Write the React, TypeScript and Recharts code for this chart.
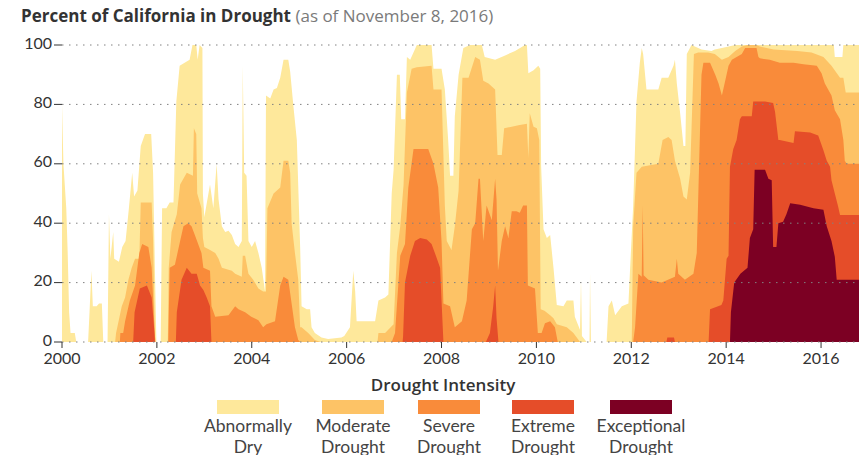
import React from 'react';
import { AreaChart, Area, XAxis, YAxis, ReferenceLine } from 'recharts';

// [year, percent of California] pairs
const abnormallyDry: [number, number][] = [
  [2000.0, 80], [2000.03, 60], [2000.09, 45], [2000.12, 30], [2000.15, 10], [2000.18, 3], [2000.27, 3], [2000.3, 0],
  [2000.55, 0], [2000.58, 10], [2000.62, 24], [2000.65, 12], [2000.73, 12], [2000.78, 13], [2000.84, 13], [2000.87, 0],
  [2000.96, 0], [2000.99, 43], [2001.02, 28], [2001.08, 37], [2001.1, 28], [2001.2, 27], [2001.27, 32], [2001.34, 34],
  [2001.41, 45], [2001.48, 57], [2001.52, 49], [2001.59, 51], [2001.66, 66], [2001.75, 70], [2001.88, 70], [2001.92, 57],
  [2001.96, 23], [2001.99, 0], [2002.08, 0], [2002.11, 45], [2002.2, 45], [2002.27, 47], [2002.35, 47], [2002.41, 81],
  [2002.48, 93], [2002.69, 95], [2002.75, 100], [2002.83, 100], [2002.86, 95], [2002.9, 100], [2002.96, 99], [2002.97, 50],
  [2003.0, 42], [2003.12, 53], [2003.19, 45], [2003.26, 60], [2003.3, 48], [2003.37, 39], [2003.44, 37], [2003.51, 37.5],
  [2003.58, 36], [2003.65, 33], [2003.72, 32], [2003.79, 34], [2003.81, 93], [2003.84, 57], [2003.89, 56], [2003.93, 34],
  [2004.0, 32], [2004.07, 34], [2004.14, 30], [2004.21, 25], [2004.28, 17], [2004.3, 83], [2004.39, 82], [2004.46, 85],
  [2004.53, 85.5], [2004.6, 89], [2004.67, 95], [2004.77, 95], [2004.81, 91], [2004.88, 79], [2004.95, 68], [2005.02, 32],
  [2005.05, 12], [2005.16, 11], [2005.23, 11], [2005.26, 5], [2005.33, 3], [2005.47, 1.5], [2005.61, 1], [2005.89, 1.5],
  [2005.95, 2], [2006.07, 5], [2006.14, 24], [2006.18, 17], [2006.21, 7], [2006.6, 7], [2006.67, 14], [2006.81, 15],
  [2006.88, 16], [2006.95, 50], [2006.99, 58], [2007.06, 90], [2007.12, 90], [2007.15, 75], [2007.23, 75], [2007.27, 96],
  [2007.34, 95], [2007.48, 100], [2007.79, 100], [2007.83, 92], [2008.0, 92], [2008.07, 85], [2008.14, 68], [2008.18, 56],
  [2008.25, 56], [2008.28, 76], [2008.36, 90], [2008.46, 99], [2008.6, 100], [2008.85, 100], [2008.91, 96], [2009.13, 95],
  [2009.34, 96.5], [2009.55, 98], [2009.76, 100], [2009.8, 100], [2009.83, 90.5], [2009.94, 91.5], [2010.04, 93], [2010.08, 92],
  [2010.1, 59], [2010.15, 38], [2010.22, 35], [2010.29, 36], [2010.36, 25], [2010.43, 12.5], [2010.57, 12], [2010.64, 14],
  [2010.78, 14], [2010.81, 8.5], [2010.92, 4], [2010.94, 21], [2010.96, 2], [2011.06, 0], [2011.12, 0], [2011.13, 23],
  [2011.15, 0], [2011.48, 0], [2011.52, 12], [2011.59, 14], [2011.66, 9], [2011.8, 12], [2011.94, 13], [2011.97, 23],
  [2012.04, 46], [2012.11, 81], [2012.18, 94], [2012.22, 99], [2012.25, 97], [2012.32, 85], [2012.57, 85], [2012.64, 89],
  [2012.78, 89], [2012.89, 93], [2012.92, 95], [2012.96, 87], [2013.03, 77], [2013.1, 66], [2013.14, 66], [2013.17, 97],
  [2013.27, 100], [2013.34, 99.5], [2013.48, 98.5], [2013.69, 98], [2013.76, 98.5], [2013.91, 99], [2014.05, 99.5], [2014.19, 100],
  [2016.27, 100], [2016.29, 96], [2016.45, 96], [2016.47, 100], [2016.8, 100],
];

const moderateDrought: [number, number][] = [
  [2001.12, 0], [2001.14, 3], [2001.26, 12], [2001.33, 15], [2001.4, 21], [2001.47, 25], [2001.54, 28], [2001.63, 28],
  [2001.66, 47], [2001.89, 47], [2001.92, 34], [2001.96, 0], [2002.23, 0], [2002.25, 25], [2002.31, 37], [2002.42, 43],
  [2002.49, 53], [2002.63, 57], [2002.76, 56], [2002.78, 72], [2002.83, 70], [2002.85, 50], [2002.94, 45], [2002.97, 35],
  [2003.0, 32], [2003.12, 31], [2003.23, 30], [2003.3, 28], [2003.37, 25], [2003.58, 24], [2003.65, 23], [2003.79, 22],
  [2003.81, 29], [2003.86, 29], [2003.93, 23], [2004.03, 21], [2004.14, 18], [2004.24, 17], [2004.3, 17], [2004.33, 45],
  [2004.46, 50], [2004.6, 52], [2004.67, 61], [2004.77, 61], [2004.81, 57], [2004.84, 40], [2004.91, 30], [2004.98, 21],
  [2005.02, 5], [2005.05, 5], [2005.19, 3], [2005.33, 0.7], [2005.45, 0], [2006.65, 0], [2006.67, 3], [2006.81, 3],
  [2006.99, 6], [2007.06, 30], [2007.13, 39], [2007.2, 53], [2007.27, 84], [2007.37, 92], [2007.48, 92.5], [2007.79, 93],
  [2007.83, 85], [2008.0, 85], [2008.07, 46], [2008.11, 34], [2008.21, 31], [2008.28, 39], [2008.36, 51], [2008.44, 89],
  [2008.57, 89], [2008.71, 96], [2008.81, 95], [2008.88, 88], [2008.99, 87], [2009.06, 86], [2009.13, 85], [2009.18, 63],
  [2009.27, 63], [2009.32, 72], [2009.48, 72.5], [2009.62, 73], [2009.8, 73.5], [2009.83, 62], [2009.86, 77], [2009.94, 72.5],
  [2010.01, 72], [2010.06, 68], [2010.09, 11], [2010.17, 10.5], [2010.29, 9], [2010.36, 8], [2010.43, 6], [2010.64, 5],
  [2010.78, 3], [2010.92, 0], [2012.01, 0], [2012.04, 39], [2012.11, 57], [2012.22, 59], [2012.57, 60], [2012.66, 68],
  [2012.78, 69], [2012.85, 68], [2012.92, 61], [2013.03, 55], [2013.1, 49], [2013.17, 48], [2013.24, 57], [2013.32, 97],
  [2013.41, 97.5], [2013.62, 97.5], [2013.76, 97], [2013.91, 95], [2014.05, 96], [2014.19, 98], [2014.33, 99.5], [2014.45, 100],
  [2014.64, 100], [2014.71, 99.5], [2015.0, 98.5], [2015.5, 98], [2015.8, 97.5], [2016.05, 96], [2016.22, 93], [2016.4, 89],
  [2016.47, 89], [2016.52, 84], [2016.8, 84],
];

const severeDrought: [number, number][] = [
  [2001.22, 0], [2001.23, 3], [2001.29, 3], [2001.33, 7], [2001.43, 14], [2001.54, 19], [2001.63, 30], [2001.69, 33],
  [2001.82, 32], [2001.89, 25], [2001.95, 4], [2001.97, 0], [2002.24, 0], [2002.27, 25], [2002.38, 26], [2002.49, 34],
  [2002.56, 39], [2002.66, 40], [2002.73, 39], [2002.8, 36], [2002.87, 33], [2002.94, 30], [2002.98, 25], [2003.12, 24],
  [2003.15, 12], [2003.23, 8.5], [2003.51, 9], [2003.65, 12], [2003.72, 11], [2003.86, 10], [2003.99, 8.5], [2004.14, 7.3],
  [2004.24, 5], [2004.31, 6], [2004.49, 7], [2004.6, 19], [2004.67, 22], [2004.77, 21], [2004.84, 13], [2004.91, 5],
  [2004.98, 0.7], [2005.02, 0], [2006.95, 0], [2007.02, 3], [2007.13, 29], [2007.23, 33], [2007.3, 52], [2007.41, 65],
  [2007.72, 65], [2007.83, 60], [2007.93, 52], [2008.0, 34], [2008.04, 13], [2008.18, 12], [2008.28, 5], [2008.43, 7],
  [2008.53, 14], [2008.64, 38], [2008.71, 40], [2008.78, 55], [2008.81, 55], [2008.88, 34], [2008.95, 46], [2009.06, 41],
  [2009.13, 55], [2009.16, 48], [2009.19, 24], [2009.27, 34], [2009.34, 39], [2009.41, 35], [2009.48, 44], [2009.58, 44],
  [2009.65, 43.5], [2009.72, 46], [2009.8, 46], [2009.82, 19], [2009.97, 18], [2010.03, 3], [2010.11, 3], [2010.18, 6.3],
  [2010.29, 7], [2010.39, 5], [2010.45, 0], [2012.04, 0], [2012.08, 5], [2012.15, 23], [2012.22, 22], [2012.24, 46],
  [2012.26, 22.5], [2012.36, 21], [2012.64, 20], [2012.92, 22], [2012.96, 28], [2012.99, 23], [2013.13, 21], [2013.31, 23],
  [2013.38, 30], [2013.43, 60], [2013.48, 90], [2013.52, 94], [2013.66, 94], [2013.77, 90], [2013.84, 87], [2013.91, 83],
  [2013.98, 88], [2014.05, 93], [2014.12, 95], [2014.22, 96], [2014.33, 97], [2014.4, 99], [2014.64, 99], [2014.68, 96],
  [2014.71, 95.5], [2014.92, 95], [2015.13, 94], [2015.42, 94], [2015.63, 93.5], [2015.91, 93], [2016.01, 90.5], [2016.08, 87],
  [2016.15, 85], [2016.22, 83], [2016.29, 78], [2016.4, 75], [2016.47, 68], [2016.5, 61], [2016.54, 60], [2016.8, 60],
];

const extremeDrought: [number, number][] = [
  [2001.5, 0], [2001.53, 10], [2001.64, 18], [2001.79, 19], [2001.89, 15], [2001.94, 5], [2001.96, 0], [2002.4, 0],
  [2002.42, 10], [2002.52, 21], [2002.63, 25], [2002.73, 23], [2002.84, 23], [2002.91, 19], [2002.98, 17.5], [2003.05, 15],
  [2003.12, 12], [2003.15, 0], [2007.18, 0], [2007.19, 2], [2007.23, 20], [2007.34, 29], [2007.44, 34], [2007.55, 35],
  [2007.69, 34.5], [2007.79, 33], [2007.86, 30], [2007.97, 25], [2008.0, 14], [2008.04, 0], [2008.93, 0], [2008.95, 0.5],
  [2009.02, 3], [2009.09, 12], [2009.13, 19], [2009.16, 8], [2009.2, 0], [2012.74, 0], [2012.76, 1.5], [2012.9, 1.5],
  [2012.92, 0], [2013.63, 0], [2013.66, 11], [2013.9, 12.5], [2013.94, 14], [2014.01, 28], [2014.05, 29], [2014.08, 59],
  [2014.15, 65], [2014.22, 68], [2014.29, 75], [2014.33, 76], [2014.54, 76], [2014.57, 81], [2014.82, 81], [2014.99, 80.5],
  [2015.03, 77.5], [2015.1, 68], [2015.13, 68], [2015.42, 67], [2015.45, 71], [2015.77, 70.5], [2015.94, 69.5], [2016.05, 64.6],
  [2016.12, 61], [2016.19, 59], [2016.22, 54.5], [2016.29, 50], [2016.36, 45.6], [2016.4, 42.8], [2016.8, 42.8],
];

const exceptionalDrought: [number, number][] = [
  [2014.08, 0], [2014.1, 10], [2014.17, 20], [2014.3, 23], [2014.45, 25], [2014.5, 35], [2014.57, 38], [2014.6, 58],
  [2014.82, 58], [2014.89, 55], [2014.96, 54.5], [2014.99, 32], [2015.06, 32], [2015.1, 40], [2015.2, 40.5], [2015.27, 43],
  [2015.35, 46.7], [2015.56, 46.2], [2015.84, 45], [2016.05, 44.5], [2016.12, 39], [2016.22, 34], [2016.29, 28.7], [2016.33, 21],
  [2016.8, 21],
];

const seriesKeys = ['d0', 'd1', 'd2', 'd3', 'd4'];
const seriesLines = [
  ['Abnormally', 'Dry'],
  ['Moderate', 'Drought'],
  ['Severe', 'Drought'],
  ['Extreme', 'Drought'],
  ['Exceptional', 'Drought'],
];
const seriesColors = ['#FEE89B', '#FDC366', '#F98B3A', '#E54D29', '#7C0023'];
const yearTicks = [2000, 2002, 2004, 2006, 2008, 2010, 2012, 2014, 2016];
const percentTicks = [0, 20, 40, 60, 80, 100];

const allSeries = [abnormallyDry, moderateDrought, severeDrought, extremeDrought, exceptionalDrought];

function buildTable() {
  const rows = new Map<number, Record<string, number>>();
  allSeries.forEach((list, i) => {
    list.forEach(([year, value]) => {
      const row = rows.get(year) ?? { year };
      row[seriesKeys[i]] = value;
      rows.set(year, row);
    });
  });
  return Array.from(rows.values()).sort((a, b) => a.year - b.year);
}

const table = buildTable();

const swatchLeft = [217, 322, 418, 512, 610];
const FONT = 'Lato, "Open Sans", sans-serif';
const WIDE = '"Open Sans", Lato, sans-serif';

export default function App() {
  return (
    <div style={{ position: 'relative', width: 859, height: 455, overflow: 'hidden', background: '#fff', fontFamily: FONT }}>
      <style>{`body{margin:0;}`}</style>
      <div style={{ position: 'absolute', left: 21, top: 4, fontSize: 17, whiteSpace: 'nowrap', lineHeight: '24px', fontFamily: WIDE }}>
        <span style={{ fontWeight: 700, color: '#333' }}>Percent of California in Drought</span>
        <span style={{ color: '#7a7a7a' }}> (as of November 8, 2016)</span>
      </div>
      <div style={{ position: 'absolute', left: 0, top: 0 }}>
        <AreaChart width={859} height={380} data={table} margin={{ top: 45, right: 0, bottom: 0, left: 0 }}>
          <XAxis
            dataKey="year"
            type="number"
            domain={[2000, 2016.8]}
            allowDataOverflow
            ticks={yearTicks}
            interval={0}
            height={38}
            axisLine={false}
            tickSize={6}
            tickMargin={5}
            tickLine={{ stroke: '#333' }}
            tick={{ fill: '#333', fontSize: 16, fontFamily: FONT }}
          />
          <YAxis
            type="number"
            domain={[0, 100]}
            ticks={percentTicks}
            interval={0}
            width={62}
            axisLine={false}
            tickSize={8}
            tickMargin={2}
            tickLine={{ stroke: '#333' }}
            tick={{ fill: '#333', fontSize: 16, fontFamily: FONT, dy: -2 }}
          />
          {seriesKeys.map((key, i) => (
            <Area
              key={key}
              dataKey={key}
              type="linear"
              connectNulls
              isAnimationActive={false}
              fill={seriesColors[i]}
              fillOpacity={1}
              stroke="none"
              dot={false}
              activeDot={false}
            />
          ))}
          {percentTicks.map((v) => (
            <ReferenceLine key={v} y={v} stroke="#808080" strokeWidth={1} strokeDasharray="1.5 5.5" />
          ))}
        </AreaChart>
      </div>
      <div style={{ position: 'absolute', left: 293, width: 300, top: 373, textAlign: 'center', fontSize: 17, color: '#333', fontWeight: 600, fontFamily: WIDE }}>
        Drought Intensity
      </div>
      {seriesLines.map((lines, i) => (
        <div key={i}>
          <div style={{ position: 'absolute', left: swatchLeft[i], top: 400, width: 62, height: 14, background: seriesColors[i] }} />
          <div
            style={{
              position: 'absolute',
              left: swatchLeft[i] + 31 - 60,
              width: 120,
              top: 415,
              textAlign: 'center',
              fontSize: 17.5,
              lineHeight: '21px',
              color: '#444',
              fontFamily: FONT,
            }}
          >
            <div>{lines[0]}</div>
            <div>{lines[1]}</div>
          </div>
        </div>
      ))}
    </div>
  );
}
